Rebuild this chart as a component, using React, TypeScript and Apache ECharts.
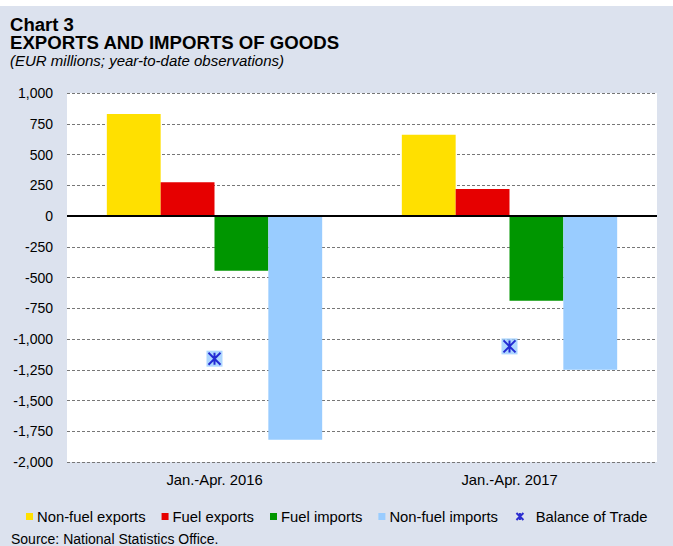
import React, { useEffect, useRef } from "react";
import * as echarts from "echarts";

const categories = ["Jan.-Apr. 2016", "Jan.-Apr. 2017"];
const nonFuelExports = [830, 660];
const fuelExports = [275, 220];
const fuelImports = [-445, -690];
const nonFuelImports = [-1820, -1250];
const balanceOfTrade = [-1160, -1060];

const titleLine1 = "Chart 3";
const titleLine2 = "EXPORTS AND IMPORTS OF GOODS";
const subtitle = "(EUR millions; year-to-date observations)";
const source = "Source: National Statistics Office.";

const FONT = "Arial, 'Liberation Sans', sans-serif";
const ASTERISK = "path://M0,0L12,12M12,0L0,12M6,0L6,12";

export default function App() {
  const ref = useRef<HTMLDivElement>(null);
  useEffect(() => {
    document.body.style.margin = "0";
    const chart = echarts.init(ref.current!, null, { renderer: "svg" });
    const fmt = (v: number) => v.toLocaleString("en-US");
    chart.setOption({
      animation: false,
      backgroundColor: "#dce2ee",
      textStyle: { fontFamily: FONT },
      graphic: [
        {
          type: "text",
          x: 10,
          y: 18.5,
          scaleX: 1.03,
          style: { text: titleLine1, font: `bold 18px ${FONT}`, fill: "#000", verticalAlign: "middle" },
        },
        {
          type: "text",
          x: 10,
          y: 36.5,
          scaleX: 1.035,
          style: { text: titleLine2, font: `bold 18px ${FONT}`, fill: "#000", verticalAlign: "middle" },
        },
        { type: "text", x: 10, y: 54, style: { text: subtitle, font: `italic 15px ${FONT}`, fill: "#000", verticalAlign: "middle" } },
        { type: "text", x: 11, y: 533, style: { text: source, font: `14px ${FONT}`, fill: "#000", verticalAlign: "middle" } },
      ],
      grid: { left: 67, right: 16, top: 87, bottom: 84, show: true, backgroundColor: "#ffffff", borderWidth: 0 },
      legend: {
        left: 21,
        top: 498,
        itemWidth: 7,
        itemHeight: 7,
        itemGap: 16,
        formatter: (n: string) => (n === "Balance of Trade" ? "  " + n : n),
        textStyle: { fontSize: 14.8, color: "#000", fontFamily: FONT, padding: [0, 0, 0, -1] },
        data: [
          { name: "Non-fuel exports", icon: "rect" },
          { name: "Fuel exports", icon: "rect" },
          { name: "Fuel imports", icon: "rect" },
          { name: "Non-fuel imports", icon: "rect" },
          { name: "Balance of Trade", icon: ASTERISK },
        ],
      },
      xAxis: {
        type: "category",
        data: categories,
        axisLine: { show: false },
        axisTick: { show: false },
        axisLabel: { fontSize: 14.8, color: "#000", margin: 10, fontFamily: FONT },
      },
      yAxis: {
        type: "value",
        min: -2000,
        max: 1000,
        interval: 250,
        axisLine: { show: false },
        axisTick: { show: false },
        axisLabel: { fontSize: 14, color: "#000", margin: 14, fontFamily: FONT, formatter: fmt },
        splitLine: { lineStyle: { type: [3, 2], color: "#777", width: 1 } },
      },
      series: [
        {
          name: "Non-fuel exports",
          type: "bar",
          data: nonFuelExports,
          barGap: "0%",
          barCategoryGap: "27%",
          itemStyle: { color: "#ffe000" },
          markLine: {
            silent: true,
            symbol: "none",
            label: { show: false },
            lineStyle: { color: "#000", width: 2, type: "solid" },
            data: [{ yAxis: 0 }],
            z: 10,
          },
        },
        { name: "Fuel exports", type: "bar", data: fuelExports, itemStyle: { color: "#e60000" } },
        { name: "Fuel imports", type: "bar", data: fuelImports, itemStyle: { color: "#009600" } },
        { name: "Non-fuel imports", type: "bar", data: nonFuelImports, itemStyle: { color: "#99ccff" } },
        {
          name: "bg",
          type: "scatter",
          data: balanceOfTrade,
          symbol: "rect",
          symbolSize: 16,
          itemStyle: { color: "#99ccff" },
          z: 3,
          silent: true,
        },
        {
          name: "Balance of Trade",
          type: "scatter",
          data: balanceOfTrade,
          symbol: ASTERISK,
          symbolSize: 12,
          itemStyle: { color: "none", borderColor: "#0000c8", borderWidth: 2 },
          z: 4,
        },
      ],
    });
    return () => chart.dispose();
  }, []);
  return <div ref={ref} style={{ position: "absolute", left: 0, top: 6, width: 673, height: 540 }} />;
}
